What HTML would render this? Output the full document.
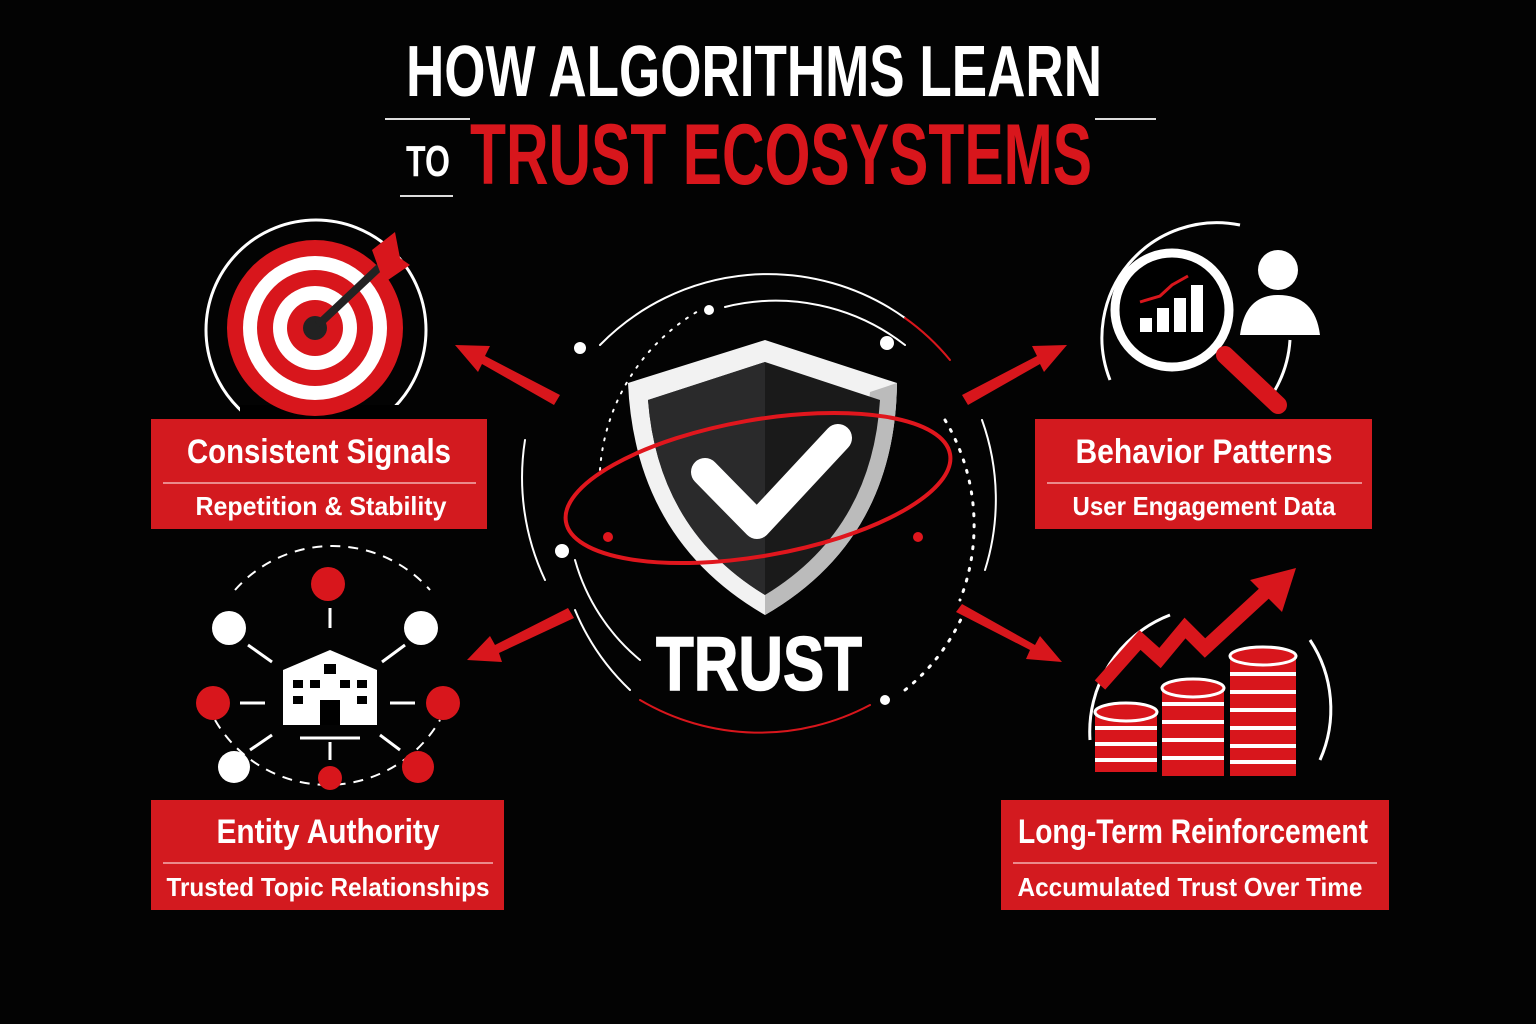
<!DOCTYPE html>
<html><head><meta charset="utf-8"><style>
html,body{margin:0;padding:0;background:#000;}
svg{display:block}
.c{font-family:"Liberation Sans Narrow","Liberation Sans",sans-serif;font-weight:bold;}
</style></head><body>
<svg width="1536" height="1024" viewBox="0 0 1536 1024" xmlns="http://www.w3.org/2000/svg">
<rect width="1536" height="1024" fill="#030303"/>
<!-- Title -->
<text x="754" y="96" text-anchor="middle" class="c" font-size="72" fill="#fff" textLength="696" lengthAdjust="spacingAndGlyphs">HOW ALGORITHMS LEARN</text>
<line x1="385" y1="119" x2="470" y2="119" stroke="#ddd" stroke-width="2"/>
<line x1="1095" y1="119" x2="1156" y2="119" stroke="#ddd" stroke-width="2"/>
<line x1="400" y1="196" x2="453" y2="196" stroke="#ddd" stroke-width="2"/>
<text x="428" y="176" text-anchor="middle" class="c" font-size="44" fill="#fff" textLength="44" lengthAdjust="spacingAndGlyphs">TO</text>
<text x="781" y="184" text-anchor="middle" class="c" font-size="86" fill="#d8161c" textLength="622" lengthAdjust="spacingAndGlyphs">TRUST ECOSYSTEMS</text>

<!-- center rings -->
<g fill="none" stroke-linecap="round">
<path d="M600 345 A235 235 0 0 1 905 318" stroke="#fff" stroke-width="2"/>
<path d="M905 318 A235 235 0 0 1 950 360" stroke="#d8161c" stroke-width="2"/>
<path d="M982 420 A235 235 0 0 1 985 570" stroke="#fff" stroke-width="2"/>
<path d="M640 700 A235 235 0 0 0 870 705" stroke="#d8161c" stroke-width="2"/>
<path d="M575 610 A235 235 0 0 0 630 690" stroke="#fff" stroke-width="2"/>
<path d="M725 307 A210 210 0 0 1 905 345" stroke="#fff" stroke-width="2"/>
<path d="M600 470 A200 200 0 0 1 700 310" stroke="#fff" stroke-width="2" stroke-dasharray="2 8"/>
<path d="M945 420 A205 205 0 0 1 960 600" stroke="#fff" stroke-width="3" stroke-dasharray="2 9"/>
<path d="M575 560 A200 200 0 0 0 640 660" stroke="#fff" stroke-width="2"/>
<path d="M905 690 A200 200 0 0 0 965 610" stroke="#fff" stroke-width="3" stroke-dasharray="2 9"/>
<path d="M525 440 A240 240 0 0 0 545 580" stroke="#fff" stroke-width="2"/>
</g>
<circle cx="580" cy="348" r="6" fill="#fff"/>
<circle cx="709" cy="310" r="5" fill="#fff"/>
<circle cx="887" cy="343" r="7" fill="#fff"/>
<circle cx="562" cy="551" r="7" fill="#fff"/>
<circle cx="885" cy="700" r="5" fill="#fff"/>

<!-- Shield -->
<path d="M765 340 L897 383 Q895 540 765 615 Q635 540 628 383 Z" fill="#f2f2f2"/>
<path d="M765 615 Q895 540 897 383 L870 392 Q860 530 765 595 Z" fill="#bbb"/>
<path d="M765 362 L880 400 Q872 530 765 595 Q658 530 648 400 Z" fill="#1a1a1a"/>
<path d="M765 362 L648 400 Q658 530 765 595 Z" fill="#2a2a2b"/>
<path d="M705 472 L757 525 L838 438" fill="none" stroke="#fff" stroke-width="28" stroke-linejoin="round" stroke-linecap="round"/>
<ellipse cx="758" cy="488" rx="195" ry="68" transform="rotate(-10 758 488)" fill="none" stroke="#e0161d" stroke-width="4"/>
<circle cx="608" cy="537" r="5" fill="#e0161d"/><circle cx="918" cy="537" r="5" fill="#e0161d"/>
<text x="759" y="690" text-anchor="middle" font-family="Liberation Sans,sans-serif" font-weight="bold" font-size="76" fill="#fff" stroke="#fff" stroke-width="1.5" textLength="206" lengthAdjust="spacingAndGlyphs">TRUST</text>

<!-- arrows -->
<g fill="#d8161c">
<polygon points="560,395 485,356 490,346 455,345 478,372 482,364 554,405"/>
<polygon points="962,395 1037,356 1032,346 1067,345 1044,372 1040,364 968,405"/>
<polygon points="568,608 495,645 490,636 467,660 502,662 499,653 574,618"/>
<polygon points="956,612 1030,650 1026,659 1062,662 1040,636 1035,645 962,604"/>
</g>

<!-- Target icon -->
<circle cx="316" cy="330" r="110" fill="none" stroke="#fff" stroke-width="3"/>
<rect x="240" y="405" width="160" height="20" fill="#000"/>
<circle cx="315" cy="328" r="88" fill="#d8161c"/>
<circle cx="315" cy="328" r="72" fill="#fff"/>
<circle cx="315" cy="328" r="58" fill="#d8161c"/>
<circle cx="315" cy="328" r="42" fill="#fff"/>
<circle cx="315" cy="328" r="28" fill="#d8161c"/>
<circle cx="315" cy="328" r="12" fill="#222"/>
<line x1="318" y1="325" x2="385" y2="262" stroke="#222" stroke-width="8"/>
<polygon points="372,250 395,232 400,258 410,265 388,280 380,272" fill="#d8161c"/>

<!-- Analytics icon -->
<path d="M1110 380 A115 115 0 0 1 1240 225" fill="none" stroke="#fff" stroke-width="3"/>
<path d="M1290 340 A115 115 0 0 1 1275 390" fill="none" stroke="#fff" stroke-width="3"/>
<circle cx="1172" cy="310" r="57" fill="#000" stroke="#fff" stroke-width="9"/>
<g fill="#fff"><rect x="1140" y="318" width="12" height="14"/><rect x="1157" y="308" width="12" height="24"/><rect x="1174" y="298" width="12" height="34"/><rect x="1191" y="285" width="12" height="47"/></g>
<polyline points="1140,302 1160,296 1172,285 1188,276" fill="none" stroke="#d8161c" stroke-width="3"/>
<line x1="1225" y1="355" x2="1278" y2="405" stroke="#d8161c" stroke-width="18" stroke-linecap="round"/>
<circle cx="1278" cy="270" r="20" fill="#fff"/>
<path d="M1240 335 Q1245 295 1278 295 Q1315 295 1320 335 Z" fill="#fff"/>

<!-- Network icon -->
<path d="M235 590 A130 130 0 0 1 430 590" fill="none" stroke="#fff" stroke-width="2" stroke-dasharray="10 8"/>
<path d="M215 720 A130 130 0 0 0 440 720" fill="none" stroke="#fff" stroke-width="2" stroke-dasharray="10 8"/>
<g stroke="#fff" stroke-width="3">
<line x1="248" y1="645" x2="272" y2="662"/><line x1="405" y1="645" x2="382" y2="662"/>
<line x1="240" y1="703" x2="265" y2="703"/><line x1="390" y1="703" x2="415" y2="703"/>
<line x1="250" y1="750" x2="272" y2="735"/><line x1="400" y1="750" x2="380" y2="735"/>
<line x1="330" y1="608" x2="330" y2="628"/><line x1="330" y1="742" x2="330" y2="760"/>
<line x1="300" y1="738" x2="360" y2="738"/>
</g>
<circle cx="328" cy="584" r="17" fill="#d8161c"/>
<circle cx="229" cy="628" r="17" fill="#fff"/><circle cx="421" cy="628" r="17" fill="#fff"/>
<circle cx="213" cy="703" r="17" fill="#d8161c"/><circle cx="443" cy="703" r="17" fill="#d8161c"/>
<circle cx="234" cy="767" r="16" fill="#fff"/><circle cx="418" cy="767" r="16" fill="#d8161c"/>
<circle cx="330" cy="778" r="12" fill="#d8161c"/>
<path d="M283 670 L330 650 L377 670 V725 H283 Z" fill="#fff"/>
<g fill="#000"><rect x="293" y="680" width="10" height="8"/><rect x="310" y="680" width="10" height="8"/><rect x="340" y="680" width="10" height="8"/><rect x="357" y="680" width="10" height="8"/><rect x="293" y="696" width="10" height="8"/><rect x="357" y="696" width="10" height="8"/><rect x="320" y="700" width="20" height="25"/><rect x="324" y="664" width="12" height="10"/></g>

<!-- Coins icon -->
<path d="M1090 740 A125 125 0 0 1 1170 615" fill="none" stroke="#fff" stroke-width="3"/>
<path d="M1310 640 A125 125 0 0 1 1320 760" fill="none" stroke="#fff" stroke-width="3"/>
<polyline points="1100,685 1140,640 1160,658 1185,628 1205,648 1270,588" fill="none" stroke="#d8161c" stroke-width="14" stroke-linejoin="miter"/>
<polygon points="1250,580 1296,568 1282,612" fill="#d8161c"/>
<g>
<rect x="1095" y="712" width="62" height="60" fill="#d8161c"/>
<g stroke="#fff" stroke-width="4"><line x1="1095" y1="728" x2="1157" y2="728"/><line x1="1095" y1="744" x2="1157" y2="744"/><line x1="1095" y1="760" x2="1157" y2="760"/></g>
<ellipse cx="1126" cy="712" rx="31" ry="9" fill="#d8161c" stroke="#fff" stroke-width="3"/>
<rect x="1162" y="688" width="62" height="88" fill="#d8161c"/>
<g stroke="#fff" stroke-width="4"><line x1="1162" y1="704" x2="1224" y2="704"/><line x1="1162" y1="722" x2="1224" y2="722"/><line x1="1162" y1="740" x2="1224" y2="740"/><line x1="1162" y1="758" x2="1224" y2="758"/></g>
<ellipse cx="1193" cy="688" rx="31" ry="9" fill="#d8161c" stroke="#fff" stroke-width="3"/>
<rect x="1230" y="656" width="66" height="120" fill="#d8161c"/>
<g stroke="#fff" stroke-width="4"><line x1="1230" y1="674" x2="1296" y2="674"/><line x1="1230" y1="692" x2="1296" y2="692"/><line x1="1230" y1="710" x2="1296" y2="710"/><line x1="1230" y1="728" x2="1296" y2="728"/><line x1="1230" y1="746" x2="1296" y2="746"/><line x1="1230" y1="762" x2="1296" y2="762"/></g>
<ellipse cx="1263" cy="656" rx="33" ry="9" fill="#d8161c" stroke="#fff" stroke-width="3"/>
</g>

<!-- Boxes -->
<g class="c" fill="#fff" text-anchor="middle">
<rect x="151" y="419" width="336" height="110" fill="#d31a1f"/>
<line x1="163" y1="483" x2="476" y2="483" stroke="#f3b0b0" stroke-width="1.5"/>
<text x="319" y="463" font-size="34" textLength="264" lengthAdjust="spacingAndGlyphs">Consistent Signals</text>
<text x="321" y="515" font-size="26" textLength="251" lengthAdjust="spacingAndGlyphs">Repetition &amp; Stability</text>

<rect x="1035" y="419" width="337" height="110" fill="#d31a1f"/>
<line x1="1047" y1="483" x2="1362" y2="483" stroke="#f3b0b0" stroke-width="1.5"/>
<text x="1204" y="463" font-size="34" textLength="257" lengthAdjust="spacingAndGlyphs">Behavior Patterns</text>
<text x="1204" y="515" font-size="26" textLength="263" lengthAdjust="spacingAndGlyphs">User Engagement Data</text>

<rect x="151" y="800" width="353" height="110" fill="#d31a1f"/>
<line x1="163" y1="863" x2="493" y2="863" stroke="#f3b0b0" stroke-width="1.5"/>
<text x="328" y="843" font-size="34" textLength="223" lengthAdjust="spacingAndGlyphs">Entity Authority</text>
<text x="328" y="896" font-size="26" textLength="323" lengthAdjust="spacingAndGlyphs">Trusted Topic Relationships</text>

<rect x="1001" y="800" width="388" height="110" fill="#d31a1f"/>
<line x1="1013" y1="863" x2="1377" y2="863" stroke="#f3b0b0" stroke-width="1.5"/>
<text x="1193" y="843" font-size="34" textLength="350" lengthAdjust="spacingAndGlyphs">Long-Term Reinforcement</text>
<text x="1190" y="896" font-size="26" textLength="345" lengthAdjust="spacingAndGlyphs">Accumulated Trust Over Time</text>
</g>
</svg>
</body></html>
